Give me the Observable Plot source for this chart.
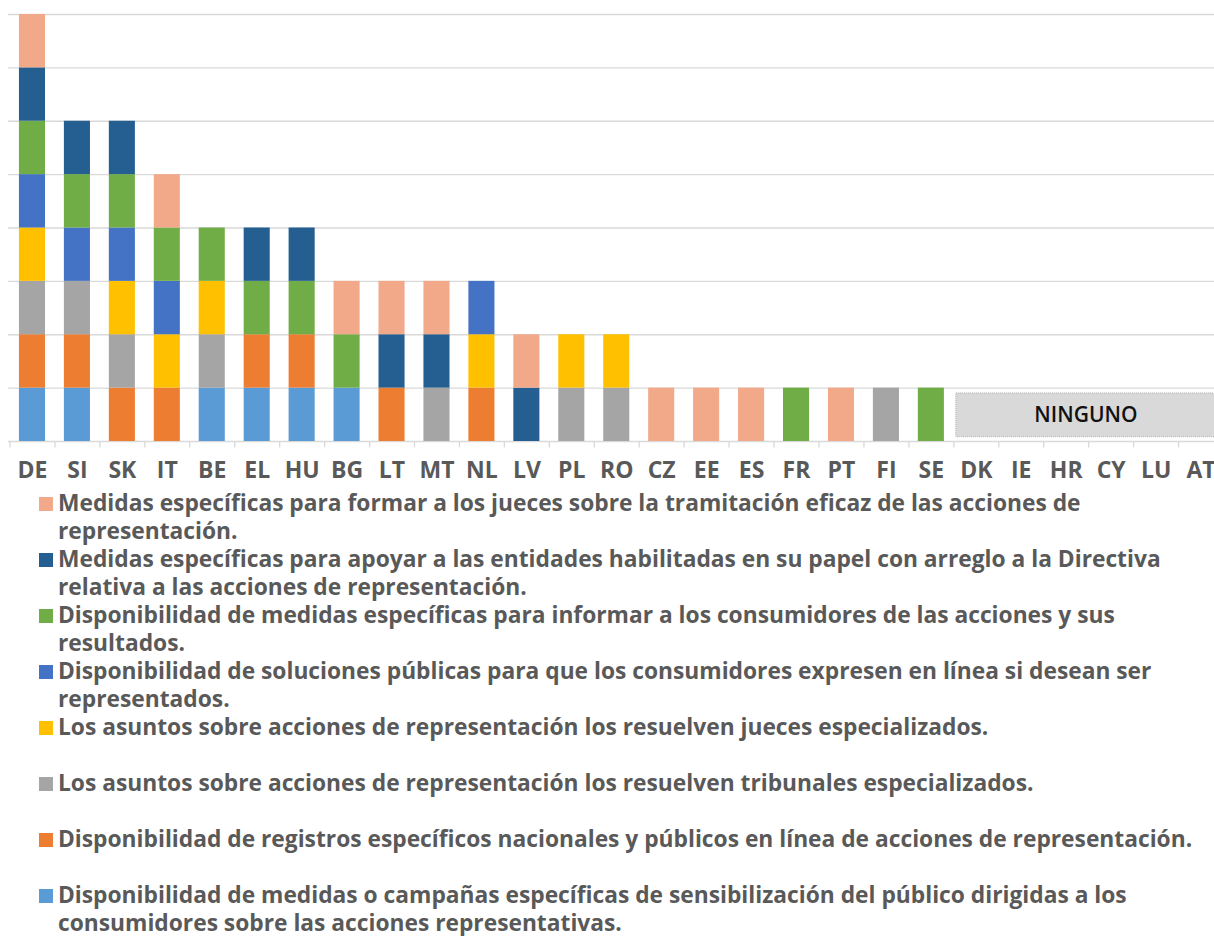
<!DOCTYPE html>
<html>
<head>
<meta charset="utf-8">
<script src="https://cdn.jsdelivr.net/npm/d3@7"></script>
<script src="https://cdn.jsdelivr.net/npm/@observablehq/plot@0.6"></script>
<style>
  body { margin: 0; background: #fff; }
  #chart svg { display: block; }
  #legend { position: relative; margin-top: 3px; font-family: "Open Sans", Lato, sans-serif; }
  .item { position: relative; height: 56px; }
  .sw { position: absolute; left: 39px; top: 8px; width: 14px; height: 14px; }
  .lab { position: absolute; left: 58px; top: 0; white-space: pre; line-height: 28px; font-weight: 700; color: #595959; }
</style>
</head>
<body>
<div id="chart"></div>
<div id="legend"></div>
<script>
// ---- data ----
const countries = ["DE","SI","SK","IT","BE","EL","HU","BG","LT","MT","NL","LV","PL","RO","CZ","EE","ES","FR","PT","FI","SE","DK","IE","HR","CY","LU","AT"];

// Categories in stacking order (bottom to top)
const categories = [
  "Disponibilidad de medidas o campañas específicas de sensibilización del público dirigidas a los\nconsumidores sobre las acciones representativas.",
  "Disponibilidad de registros específicos nacionales y públicos en línea de acciones de representación.",
  "Los asuntos sobre acciones de representación los resuelven tribunales especializados.",
  "Los asuntos sobre acciones de representación los resuelven jueces especializados.",
  "Disponibilidad de soluciones públicas para que los consumidores expresen en línea si desean ser\nrepresentados.",
  "Disponibilidad de medidas específicas para informar a los consumidores de las acciones y sus\nresultados.",
  "Medidas específicas para apoyar a las entidades habilitadas en su papel con arreglo a la Directiva\nrelativa a las acciones de representación.",
  "Medidas específicas para formar a los jueces sobre la tramitación eficaz de las acciones de\nrepresentación."
];
const colors = ["#5B9BD5","#ED7D31","#A5A5A5","#FFC000","#4472C4","#70AD47","#255E91","#F1A98A"];

// one value per country (same order as countries), per category
const campanas    = [1,1,0,0,1,1,1,1,0,0,0,0,0,0,0,0,0,0,0,0,0,0,0,0,0,0,0];
const registros   = [1,1,1,1,0,1,1,0,1,0,1,0,0,0,0,0,0,0,0,0,0,0,0,0,0,0,0];
const tribunales  = [1,1,1,0,1,0,0,0,0,1,0,0,1,1,0,0,0,0,0,1,0,0,0,0,0,0,0];
const jueces      = [1,0,1,1,1,0,0,0,0,0,1,0,1,1,0,0,0,0,0,0,0,0,0,0,0,0,0];
const soluciones  = [1,1,1,1,0,0,0,0,0,0,1,0,0,0,0,0,0,0,0,0,0,0,0,0,0,0,0];
const informar    = [1,1,1,1,1,1,1,1,0,0,0,0,0,0,0,0,0,1,0,0,1,0,0,0,0,0,0];
const apoyar      = [1,1,1,0,0,1,1,0,1,1,0,1,0,0,0,0,0,0,0,0,0,0,0,0,0,0,0];
const formar      = [1,0,0,1,0,0,0,1,1,1,0,1,0,0,1,1,1,0,1,0,0,0,0,0,0,0,0];
const series = [campanas, registros, tribunales, jueces, soluciones, informar, apoyar, formar];

const noneLabel = "NINGUNO";
const noneCountries = ["DK","IE","HR","CY","LU","AT"];
const yTicks = [0,1,2,3,4,5,6,7,8];

// ---- table for the library ----
const rows = [];
series.forEach((vals, si) => {
  vals.forEach((v, ci) => {
    if (v > 0) rows.push({country: countries[ci], category: categories[si], value: v});
  });
});

const fontFamily = "'Open Sans', Lato, sans-serif";
const textColor = "#595959";

// NINGUNO box, positioned with the plot's own scales
function noneBox(index, scales, values, dims) {
  const x = scales.x, y = scales.y;
  const step = x(countries[1]) - x(countries[0]);
  const left = x(noneCountries[0]) - step * 0.21 + 2.5;
  const right = x(noneCountries[noneCountries.length - 1]) + step * 0.79;
  const top = y(0.9), bottom = y(0.08);
  const g = d3.create("svg:g");
  g.append("rect")
    .attr("x", left).attr("y", top)
    .attr("width", right - left).attr("height", bottom - top)
    .attr("fill", "#D9D9D9")
    .attr("stroke", "#B0B0B0").attr("stroke-width", 1).attr("stroke-dasharray", "1,1");
  g.append("text")
    .attr("x", (left + dims.width) / 2 + 1).attr("y", (top + bottom) / 2)
    .attr("dy", "0.36em")
    .attr("text-anchor", "middle")
    .attr("font-size", 21).attr("font-weight", 600)
    .attr("font-family", fontFamily)
    .attr("fill", "#111")
    .text(noneLabel);
  return g.node();
}

const chart = Plot.plot({
  width: 1214,
  height: 486,
  marginLeft: 8,
  marginRight: 0,
  marginTop: 14,
  marginBottom: 45,
  style: {background: "white", fontFamily, overflow: "visible"},
  x: {domain: countries, range: [9.5, 1223], paddingInner: 0.42, paddingOuter: 0.21, round: false, axis: null},
  y: {domain: [0, 8], axis: null},
  color: {domain: categories, range: colors},
  marks: [
    Plot.ruleY(yTicks, {stroke: "#D9D9D9", strokeWidth: 1.3}),
    Plot.barY(rows, {x: "country", y: "value", fill: "category", order: categories}),
    Plot.ruleX(countries, {x: d => d, y1: 0, y2: -0.12, dx: -22.47, stroke: "#D9D9D9", strokeWidth: 1.3}),
    Plot.text(countries, {x: d => d, y: 0, dy: 29, text: d => d, fontSize: 23, fontWeight: 700, fill: textColor}),
    noneBox
  ]
});
document.getElementById("chart").appendChild(chart);

// ---- legend (top item = top of stack) ----
const legend = document.getElementById("legend");
// fit font size so the longest legend line spans about 1135px like the reference
const ctx = document.createElement("canvas").getContext("2d");
const refLine = categories[1];
ctx.font = `700 22px ${fontFamily}`;
let fs = 22 * 1135 / ctx.measureText(refLine).width;
fs = Math.max(18, Math.min(25, fs));
for (let i = categories.length - 1; i >= 0; i--) {
  const item = document.createElement("div");
  item.className = "item";
  const sw = document.createElement("div");
  sw.className = "sw";
  sw.style.background = colors[i];
  const lab = document.createElement("div");
  lab.className = "lab";
  lab.style.fontSize = fs + "px";
  lab.textContent = categories[i];
  item.appendChild(sw);
  item.appendChild(lab);
  legend.appendChild(item);
}
</script>
</body>
</html>
